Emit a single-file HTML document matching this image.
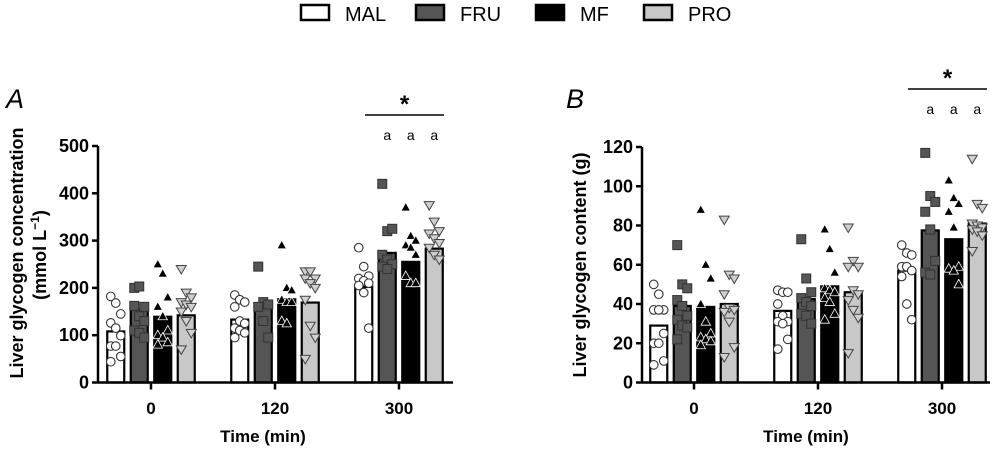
<!DOCTYPE html>
<html><head><meta charset="utf-8"><style>
html,body{margin:0;padding:0;background:#fff;}
svg{display:block;font-family:"Liberation Sans",Arial,sans-serif;}
</style></head><body>
<svg id="chart" width="1000" height="449" viewBox="0 0 1000 449"></svg>
<script>
const groups = ["0","120","300"];
const seriesNames = ["MAL","FRU","MF","PRO"];
const ticksA = [0,100,200,300,400,500];
const ticksB = [0,20,40,60,80,100,120];
const barsA = [[108,154,139,142],[133,158,176,169],[202,274,255,283]];
const barsB = [[29,39,38.5,40],[36.5,42.5,49,46],[57,77.5,73,81]];
const ptsA = [
 [[182,168,145,126,115,99,77,77,55,44],[200,203,160,162,140,130,110,105,95],[250,230,180,160,140,110,100,95,85,80],[240,190,180,170,165,160,150,130,105,70]],
 [[185,175,170,160,130,125,115,110,105,95],[245,170,165,160,130,95],[290,200,195,175,170,170,130,125],[235,235,220,220,210,200,175,120,95,50]],
 [[285,245,225,220,215,210,205,190,115],[420,320,325,270,260,250,245,240],[370,310,300,290,285,270,225,210,210],[375,340,320,315,305,295,285,270,260]]
];
const ptsB = [
 [[50,45,37,37,37,25,20,20,11,9],[70,50,48,42,39,34,32,29,28,22],[88,60,53,40,31,25,23,22,21,19],[83,55,53,45,38,37,36,31,18,13]],
 [[47,46,46,40,34,31,31,30,22,17],[73,53,46,43,41,39,35,34,30],[78,68,56,48,47,46,43,41,35,32],[79,62,59,59,47,45,42,37,33,15]],
 [[70,66,65,59,59,57,54,40,32],[117,95,92,87,78,62,56,55],[103,94,91,87,79,59,58,57,50],[114,91,89,81,80,79,78,77,75,67]]
];
const fills = ["#ffffff","#555555","#000000","#c8c8c8"];
const NS="http://www.w3.org/2000/svg";
const svg=document.getElementById('chart');
function mk(tag,attrs,parent,text){const e=document.createElementNS(NS,tag);for(const k in attrs)e.setAttribute(k,attrs[k]);if(text!==undefined)e.textContent=text;(parent||svg).appendChild(e);return e;}

const legX=[300,415,535,643];
seriesNames.forEach((n,i)=>{
  const r=mk('rect',{x:legX[i]+1,y:5,width:28,height:15,fill:fills[i],stroke:'#000','stroke-width':2.5});
  
  
  const t=mk('text',{x:legX[i]+45,y:21,'font-size':20},svg,n);
  
  
});

function panel(cfg){
  const g=mk('g',{});
  
  
  const y=v=>cfg.y0-(v/cfg.max)*(cfg.y0-cfg.yTop);
  const gx=i=>cfg.gc[i];
  const bx=(i,s)=>gx(i)+(s-1.5)*23.5;
  cfg.bars.forEach((grp,i)=>grp.forEach((v,s)=>{
    const r=mk('rect',{x:bx(i,s)-8.5,y:y(v),width:17,height:cfg.y0-y(v),fill:fills[s],stroke:'#000','stroke-width':2.2},g);
    
    
  }));
  cfg.pts.forEach((grp,i)=>grp.forEach((arr,s)=>{
    arr.forEach((v,k)=>{
      const cx=bx(i,s)+((k%3)-1)*5, cy=y(v);
      let e;
      if(s===0) e=mk('circle',{cx:cx,cy:cy,r:4.3,fill:'#fff',stroke:'#333','stroke-width':1.1},g);
      else if(s===1) e=mk('rect',{x:cx-4.5,y:cy-4.5,width:9,height:9,fill:'#555',stroke:'#333','stroke-width':1},g);
      else if(s===2) e=mk('polygon',{points:`${cx},${cy-5} ${cx-4.7},${cy+3.5} ${cx+4.7},${cy+3.5}`,fill:'#000',stroke:'#fff','stroke-width':0.8},g);
      else e=mk('polygon',{points:`${cx-5},${cy-3.5} ${cx+5},${cy-3.5} ${cx},${cy+5}`,fill:'#cfcfcf',stroke:'#444','stroke-width':1},g);
      
      
    });
  }));
  const ya=mk('line',{x1:cfg.ax,y1:cfg.yTop,x2:cfg.ax,y2:cfg.y0,stroke:'#000','stroke-width':2.5},g);
  
  const xa=mk('line',{x1:cfg.ax,y1:cfg.y0,x2:cfg.axEnd,y2:cfg.y0,stroke:'#000','stroke-width':2.5},g);
  
  cfg.ticks.forEach(v=>{
    mk('line',{x1:cfg.ax-6,y1:y(v),x2:cfg.ax,y2:y(v),stroke:'#000','stroke-width':2.5},g);
    const t=mk('text',{x:cfg.ax-9,y:y(v)+6,'font-size':18,'font-weight':'bold','text-anchor':'end'},g,String(v));
    
  });
  groups.forEach((lab,i)=>{
    mk('line',{x1:gx(i),y1:cfg.y0,x2:gx(i),y2:cfg.y0+7,stroke:'#000','stroke-width':2.5},g);
    const t=mk('text',{x:gx(i),y:414,'font-size':17,'font-weight':'bold','text-anchor':'middle'},g,lab);
    
  });
  const xt=mk('text',{x:gx(1)-12,y:442,'font-size':17,'font-weight':'bold','text-anchor':'middle'},g,'Time (min)');
  
  mk('line',{x1:cfg.sig[0],y1:cfg.sig[2],x2:cfg.sig[1],y2:cfg.sig[2],stroke:'#000','stroke-width':1.5},g);
  const st=mk('text',{x:(cfg.sig[0]+cfg.sig[1])/2,y:cfg.sig[2]-3,'font-size':24,'font-weight':'bold','text-anchor':'middle'},g,'*');
  
  [1,2,3].forEach(s=>{
    const t=mk('text',{x:bx(2,s),y:cfg.sig[2]+25,'font-size':14,'text-anchor':'middle'},g,'a');
    
  });
  const L=mk('text',{x:cfg.letter[0],y:cfg.letter[1],'font-size':27,'font-style':'italic'},g,cfg.letterText);
  
  return g;
}
panel({name:'panel-a',y0:382.5,yTop:146,max:500,ax:98,axEnd:453,gc:[151,275,399],bars:barsA,pts:ptsA,ticks:ticksA,sig:[365,444,115],letter:[6,108],letterText:'A'});
panel({name:'panel-b',y0:382.5,yTop:147,max:120,ax:642,axEnd:990,gc:[694,818,942],bars:barsB,pts:ptsB,ticks:ticksB,sig:[908,987,89],letter:[566,108],letterText:'B'});

const ya1=mk('text',{transform:'translate(23,253) rotate(-90)','font-size':18,'font-weight':'bold','text-anchor':'middle'},svg,'Liver glycogen concentration');

const ya2=mk('text',{transform:'translate(46,255) rotate(-90)','font-size':18,'font-weight':'bold','text-anchor':'middle'},svg);

ya2.innerHTML='(mmol L<tspan dy="-7" font-size="12">−1</tspan><tspan dy="7">)</tspan>';
const yb=mk('text',{transform:'translate(586,265) rotate(-90)','font-size':18,'font-weight':'bold','text-anchor':'middle'},svg,'Liver glycogen content (g)');

</script>
</body></html>
